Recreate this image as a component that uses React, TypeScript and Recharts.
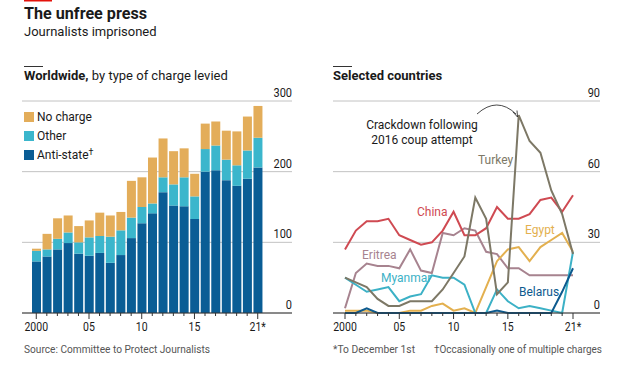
import React from 'react'
import { BarChart, Bar, LineChart, Line, XAxis, YAxis, CartesianGrid } from 'recharts'

const years = [2000, 2001, 2002, 2003, 2004, 2005, 2006, 2007, 2008, 2009, 2010, 2011, 2012, 2013, 2014, 2015, 2016, 2017, 2018, 2019, 2020, 2021]

// worldwide, by type of charge
const antiState = [73, 80, 90, 99, 84, 81, 85, 71, 82, 106, 127, 141, 171, 152, 151, 133, 200, 202, 188, 180, 190, 206]
const other = [15, 10, 15, 15, 16, 26, 24, 37, 35, 29, 23, 14, 21, 30, 41, 32, 32, 35, 29, 29, 40, 42]
const noCharge = [3, 22, 29, 24, 23, 24, 33, 30, 26, 52, 42, 65, 55, 47, 41, 32, 36, 34, 41, 48, 48, 45]

// selected countries
const china = [27, 35, 39, 39, 40, 33, 31, 29, 30, 35, 43, 33, 33, 36, 45, 40, 40, 42, 48, 49, 43, 50]
const turkey = [15, 13, 11, 6, 3, 3, 5, 5, 5, 10, 17, 24, 49, 40, 8, 13, 84, 73, 68, 52, 42, 25]
const eritrea = [2, 17, 21, 20, 20, 19, 27, 18, 17, 34, 33, 36, 35, 26, 25, 19, 19, 16, 16, 16, 16, 16]
const myanmar = [15, 12, 9, 10, 11, 5, 7, 8, 16, 15, 15, 12, 0, 0, 10, 5, 2, 3, 2, 1, 0, 26]
const egypt = [1, 1, 1, 0, 0, 0, 1, 1, 3, 4, 1, 2, 0, 11, 22, 27, 28, 22, 28, 31, 34, 26]
const belarus = [0, 0, 2, 0, 0, 0, 0, 0, 0, 0, 0, 0, 0, 0, 1, 0, 0, 0, 0, 0, 9, 19]

const barTicks = [0, 100, 200, 300]
const lineTicks = [0, 30, 60, 90]
const yearLabels: Record<number, string> = { 2000: '2000', 2005: '05', 2010: '10', 2015: '15', 2021: '21*' }

const barData = years.map((year, i) => ({ year, antiState: antiState[i], other: other[i], noCharge: noCharge[i] }))
const lineData = years.map((year, i) => ({
  year,
  china: china[i],
  turkey: turkey[i],
  eritrea: eritrea[i],
  myanmar: myanmar[i],
  egypt: egypt[i],
  belarus: belarus[i],
}))

const SANS = 'Roboto, "Noto Sans", sans-serif'

const C = {
  anti: '#0a5d95',
  other: '#3bb6cc',
  none: '#e3ad5a',
  china: '#cf4a52',
  turkey: '#7d7866',
  eritrea: '#a7838f',
  myanmar: '#3cb1c6',
  egypt: '#e3b04f',
  belarus: '#0d5a8e',
  grid: '#c2c2c2',
  axis: '#333',
  text: '#1a1a1a',
}

function YearTick(props: any) {
  const { x, y, payload } = props
  const label = yearLabels[payload.value]
  return (
    <g>
      <line x1={x} x2={x} y1={y} y2={y + (label ? 6 : 3)} stroke={C.axis} strokeWidth={1} />
      {label && (
        <text
          transform={`translate(${x},${y + 18}) scale(0.84,1)`}
          textAnchor="middle"
          fontSize={12.5}
          fill={C.text}
          fontFamily={SANS}
        >
          {label}
        </text>
      )}
    </g>
  )
}

function ValueTick(props: any) {
  const { x, y, payload } = props
  return (
    <text transform={`translate(${x},${y - 4}) scale(0.88,1)`} textAnchor="end" fontSize={12.5} fill={C.text} fontFamily={SANS}>
      {payload.value}
    </text>
  )
}

function Overlay() {
  const note = { fontSize: 11.5, fill: '#555', fontFamily: SANS, lengthAdjust: 'spacingAndGlyphs' as const }
  return (
    <svg width={641} height={377} style={{ position: 'absolute', left: 0, top: 0, pointerEvents: 'none' }}>
      <rect x={24} y={0} width={28} height={1.5} fill="#e3120b" />
      <text x={24} y={19} fontSize={17} fontWeight={700} fill={C.text} fontFamily={SANS} textLength={123} lengthAdjust="spacingAndGlyphs">
        The unfree press
      </text>
      <text x={24} y={36} fontSize={13} fill={C.text} fontFamily={SANS}>Journalists imprisoned</text>

      <rect x={24} y={66} width={19} height={1} fill={C.axis} />
      <text x={24} y={80} fontSize={13} fill={C.text} fontFamily={SANS}>
        <tspan fontWeight={700}>Worldwide,</tspan> by type of charge levied
      </text>
      <rect x={333} y={66} width={19} height={1} fill={C.axis} />
      <text x={333} y={80} fontSize={13} fontWeight={700} fill={C.text} fontFamily={SANS}>Selected countries</text>

      <rect x={24} y={112} width={10} height={10} fill={C.none} />
      <text x={37} y={121} fontSize={12} fill={C.text} fontFamily={SANS}>No charge</text>
      <rect x={24} y={131} width={10} height={10} fill={C.other} />
      <text x={37} y={140} fontSize={12} fill={C.text} fontFamily={SANS}>Other</text>
      <rect x={24} y={150} width={10} height={10} fill={C.anti} />
      <text x={37} y={159} fontSize={12} fill={C.text} fontFamily={SANS}>
        Anti-state<tspan fontSize={9} dy={-4}>†</tspan>
      </text>

      <text x={422} y={129} textAnchor="middle" fontSize={12} fill={C.text} fontFamily={SANS}>Crackdown following</text>
      <text x={422} y={144} textAnchor="middle" fontSize={12} fill={C.text} fontFamily={SANS}>2016 coup attempt</text>
      <path d="M477 114 Q497 96 516 114" fill="none" stroke={C.text} strokeWidth={0.8} />
      <path d="M513 112 L517.5 117 L517 110.5" fill="none" stroke={C.text} strokeWidth={0.8} />

      <text x={417} y={216} fontSize={12} fill={C.china} fontFamily={SANS}>China</text>
      <text x={362} y={259} fontSize={12} fill={C.eritrea} fontFamily={SANS}>Eritrea</text>
      <text x={381} y={282} fontSize={12} fill={C.myanmar} fontFamily={SANS}>Myanmar</text>
      <text x={478} y={164} fontSize={12} fill={C.turkey} fontFamily={SANS}>Turkey</text>
      <text x={525} y={234} fontSize={12} fill={C.egypt} fontFamily={SANS}>Egypt</text>
      <text x={519} y={296} fontSize={12} fill={C.belarus} fontFamily={SANS}>Belarus</text>

      <text x={24} y={353} textLength={186} {...note}>Source: Committee to Protect Journalists</text>
      <text x={333} y={353} textLength={82} {...note}>*To December 1st</text>
      <text x={434} y={353} textLength={168} {...note}>†Occasionally one of multiple charges</text>
    </svg>
  )
}

export default function App() {
  return (
    <div style={{ position: 'absolute', left: 0, top: 0, width: 641, height: 377, background: '#fff', overflow: 'hidden' }}>
      <div style={{ position: 'absolute', left: 0, top: 80 }}>
        <BarChart width={300} height={260} data={barData} margin={{ top: 21, right: 7, bottom: 2, left: 22 }}>
          <CartesianGrid vertical={false} stroke={C.grid} />
          <XAxis
            dataKey="year"
            interval={0}
            height={25}
            padding={{ left: 9, right: 29 }}
            tickSize={0}
            tickMargin={0}
            tickLine={false}
            axisLine={{ stroke: C.axis }}
            tick={<YearTick />}
          />
          <YAxis
            orientation="right"
            width={1}
            domain={[0, 300]}
            ticks={barTicks}
            tickSize={0}
            tickMargin={0}
            tickLine={false}
            axisLine={false}
            tick={<ValueTick />}
          />
          <Bar dataKey="antiState" stackId="a" fill={C.anti} barSize={9} isAnimationActive={false} />
          <Bar dataKey="other" stackId="a" fill={C.other} barSize={9} isAnimationActive={false} />
          <Bar dataKey="noCharge" stackId="a" fill={C.none} barSize={9} isAnimationActive={false} />
        </BarChart>
      </div>
      <div style={{ position: 'absolute', left: 320, top: 80 }}>
        <LineChart width={300} height={260} data={lineData} margin={{ top: 21, right: 19, bottom: 2, left: 13 }}>
          <CartesianGrid vertical={false} stroke={C.grid} />
          <XAxis
            dataKey="year"
            type="number"
            domain={[2000, 2021]}
            ticks={years}
            interval={0}
            height={25}
            padding={{ left: 12, right: 27 }}
            tickSize={0}
            tickMargin={0}
            tickLine={false}
            axisLine={{ stroke: C.axis }}
            tick={<YearTick />}
          />
          <YAxis
            orientation="right"
            width={1}
            domain={[0, 90]}
            ticks={lineTicks}
            tickSize={0}
            tickMargin={0}
            tickLine={false}
            axisLine={false}
            tick={<ValueTick />}
          />
          <Line dataKey="eritrea" stroke={C.eritrea} strokeWidth={2} dot={false} isAnimationActive={false} />
          <Line dataKey="china" stroke={C.china} strokeWidth={2} dot={false} isAnimationActive={false} />
          <Line dataKey="egypt" stroke={C.egypt} strokeWidth={2} dot={false} isAnimationActive={false} />
          <Line dataKey="myanmar" stroke={C.myanmar} strokeWidth={2} dot={false} isAnimationActive={false} />
          <Line dataKey="turkey" stroke={C.turkey} strokeWidth={2} dot={false} isAnimationActive={false} />
          <Line dataKey="belarus" stroke={C.belarus} strokeWidth={2} dot={false} isAnimationActive={false} />
        </LineChart>
      </div>
      <Overlay />
    </div>
  )
}
